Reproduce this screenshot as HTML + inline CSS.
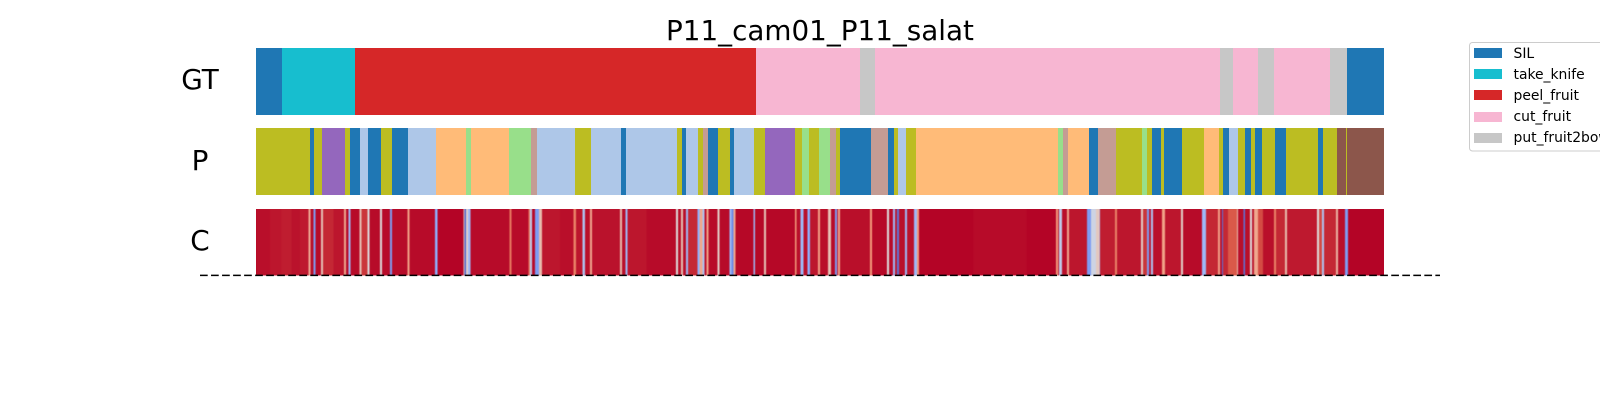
<!DOCTYPE html>
<html lang="en">
<head>
<meta charset="utf-8">
<title>P11_cam01_P11_salat</title>
<style>
html,body{margin:0;padding:0;background:#fff;width:1600px;height:400px;overflow:hidden}
svg{display:block}
text{font-family:"DejaVu Sans","Liberation Sans",sans-serif;fill:#000}
</style>
</head>
<body>
<svg id="chart" xmlns="http://www.w3.org/2000/svg" width="1600" height="400" viewBox="0 0 1600 400">
  <defs>
    <filter id="band-smooth" filterUnits="userSpaceOnUse" x="256" y="209" width="1128" height="66.5" color-interpolation-filters="sRGB">
      <feGaussianBlur stdDeviation="0.6 0"/>
    </filter>
  </defs>
  <rect x="0" y="0" width="1600" height="400" fill="#ffffff"/>
  <text x="820" y="40" font-size="27.8" text-anchor="middle">P11_cam01_P11_salat</text>
  <text x="200" y="89" font-size="27.8" text-anchor="middle">GT</text>
  <text x="200" y="170" font-size="27.8" text-anchor="middle">P</text>
  <text x="200" y="250" font-size="27.8" text-anchor="middle">C</text>
  <g id="gt-row"></g>
  <g id="p-row"></g>
  <rect x="256" y="209" width="1128" height="66.5" fill="#b40426"/>
  <g id="c-row" filter="url(#band-smooth)"></g>
  <line x1="200" y1="275.4" x2="1440" y2="275.4" stroke="#000" stroke-width="1.5" stroke-dasharray="7.7 3.33"/>
  <g>
    <rect x="1469.5" y="42.5" width="140" height="108.5" rx="3" ry="3" fill="#fff" fill-opacity="0.8" stroke="#cccccc" stroke-width="1"/>
    <g id="legend-entries"></g>
  </g>
</svg>
<script>
// Ground truth row
const gtLabels = ['SIL','take_knife','peel_fruit','cut_fruit','put_fruit2bowl','cut_fruit','put_fruit2bowl','cut_fruit','put_fruit2bowl','cut_fruit','put_fruit2bowl','SIL'];
const gtDurations = [26,73,401,104,15,345,13,25,16,56,17,37];

// Predicted row (o olive, b blue, pu purple, lb light blue, lo light orange, lg light green, ro rosy, br brown)
const pLabels = ['o','b','o','pu','o','b','lb','b','o','b','lb','lo','lg','lo','lg','ro','lb','o','lb','b','lb','o','b','lb','o','ro','b','o','b','lb','o','pu','o','lg','o','lg','ro','o','b','ro','b','o','lb','o','lo','lg','ro','lo','b','ro','o','lg','o','b','o','b','o','lo','o','b','lb','o','b','o','b','o','b','o','b','o','br','o','br'];
const pDurations = [54,4,8,23,5,10,8,13,11,16,28,30,5,38,22,6,38,16,30,5,51,5,4,12,5,5,10,12,4,20,11,30,7,7,10,11,6,4,31,17,6,4,8,10,142,5,5,21,9,18,26,5,5,9,3,18,22,15,4,6,9,7,6,4,7,13,11,32,5,14,9,1,37];

// Confidence row: run lengths and confidence value of each run
const cDurations = [42,35,30,25,25,6,9,6,17,6,31,32,6,8,6,26,6,18,6,32,6,24,6,46,6,77,7,78,4,4,6,8,116,6,52,4,
  6,9,12,9,54,40,8,20,7,15,6,84,6,10,6,58,88,6,9,6,9,6,29,6,9,6,6,6,26,6,30,6,6,6,54,5,27,6,87,5,12,8,13,7,24,6,
  24,9,12,6,3,6,90,6,45,6,12,6,6,6,18,6,21,9,6,163,160,88,6,3,9,15,6,54,12,15,10,2,
  45,6,72,6,12,6,6,6,27,9,48,6,57,12,36,6,6,3,15,27,3,16,5,15,6,6,12,15,33,6,27,6,90,6,9,6,36,6,21,9,108];
const cValues = [.985,.975,.965,.98,.97,.68,.985,.2,.99,.6,.95,.975,.7,.99,.3,.99,.6,.93,.5,.99,.5,.99,.2,.99,.72,.99,.25,1,.6,.05,.55,.3,.99,.82,.99,.82,
  .4,.99,.2,.62,.975,.985,.8,.975,.35,.985,.7,.98,.62,.985,.3,.975,.99,.5,.985,.6,.985,.3,.95,.25,.7,.35,.985,.72,.99,.55,.99,.3,.15,.7,.995,.3,.995,.6,.995,.75,.985,.3,.985,.25,.975,.72,
  .985,.6,.99,.2,.985,.72,.985,.75,.995,.5,.99,.3,.975,.1,.985,.3,.98,.3,.75,1,.99,1,.75,.985,.4,.985,.7,.975,.2,.45,.58,.3,
  .965,.8,.975,.55,.93,.2,.975,.35,.985,.72,.975,.55,.99,.3,.95,.72,.985,.1,.95,.88,.62,.985,.1,.985,.5,.975,.7,.9,.985,.8,.95,.62,.97,.5,.9,.35,.95,.65,.985,.2,1];

// Legend
const legendLabels = ['SIL','take_knife','peel_fruit','cut_fruit','put_fruit2bowl'];

const classColors = {
  'SIL':'#1f77b4','take_knife':'#17becf','peel_fruit':'#d62728','cut_fruit':'#f7b6d2','put_fruit2bowl':'#c7c7c7',
  o:'#bcbd22',b:'#1f77b4',pu:'#9467bd',lb:'#aec7e8',lo:'#ffbb78',lg:'#98df8a',ro:'#c49c94',br:'#8c564b'
};
const coolwarmStops = [[0,[59,76,192]],[.25,[141,176,254]],[.5,[221,220,220]],[.75,[244,154,123]],[.875,[220,93,74]],[1,[180,4,38]]];

const NS = 'http://www.w3.org/2000/svg';
const plotLeft = 256, plotRight = 1384;

function coolwarm(v){
  const t = Math.max(0, Math.min(1, v));
  for (let i = 1; i < coolwarmStops.length; i++){
    const a = coolwarmStops[i-1], b = coolwarmStops[i];
    if (t <= b[0]){
      const f = (t - a[0]) / (b[0] - a[0]);
      const c = a[1].map((x, k) => Math.round(x + (b[1][k] - x) * f));
      return 'rgb(' + c.join(',') + ')';
    }
  }
  return 'rgb(180,4,38)';
}
function xScale(durations){
  const total = durations.reduce((s, d) => s + d, 0);
  return t => plotLeft + (plotRight - plotLeft) * t / total;
}
function drawRow(parentId, durations, colorOf, top, bottom, markName){
  const parent = document.getElementById(parentId);
  const x = xScale(durations);
  let t = 0;
  durations.forEach((d, i) => {
    const el = document.createElementNS(NS, 'rect');
    const x0 = x(t), x1 = x(t + d);
    el.setAttribute('x', x0);
    el.setAttribute('y', top);
    el.setAttribute('width', x1 - x0);
    el.setAttribute('height', bottom - top);
    el.setAttribute('fill', colorOf(i));
    el.setAttribute('shape-rendering', 'crispEdges');
    
    
    parent.appendChild(el);
    t += d;
  });
}
drawRow('gt-row', gtDurations, i => classColors[gtLabels[i]], 48, 115, 'gt-segment');
drawRow('p-row', pDurations, i => classColors[pLabels[i]], 128, 195, 'prediction-segment');
drawRow('c-row', cDurations, i => coolwarm(cValues[i]), 209, 275.5, 'confidence-band');

const legendGroup = document.getElementById('legend-entries');
const legendPatchTop = [48, 69, 90, 112, 133];
const legendBaseline = [58, 79, 100, 121, 142];
legendLabels.forEach((name, i) => {
  const patch = document.createElementNS(NS, 'rect');
  patch.setAttribute('x', 1474);
  patch.setAttribute('y', legendPatchTop[i]);
  patch.setAttribute('width', 28);
  patch.setAttribute('height', 10);
  patch.setAttribute('fill', classColors[name]);
  
  
  legendGroup.appendChild(patch);
  const label = document.createElementNS(NS, 'text');
  label.setAttribute('x', 1513.5);
  label.setAttribute('y', legendBaseline[i]);
  label.setAttribute('font-size', '13.9');
  label.setAttribute('fill', '#262626');
  
  
  label.textContent = name;
  legendGroup.appendChild(label);
});
</script>
</body>
</html>
